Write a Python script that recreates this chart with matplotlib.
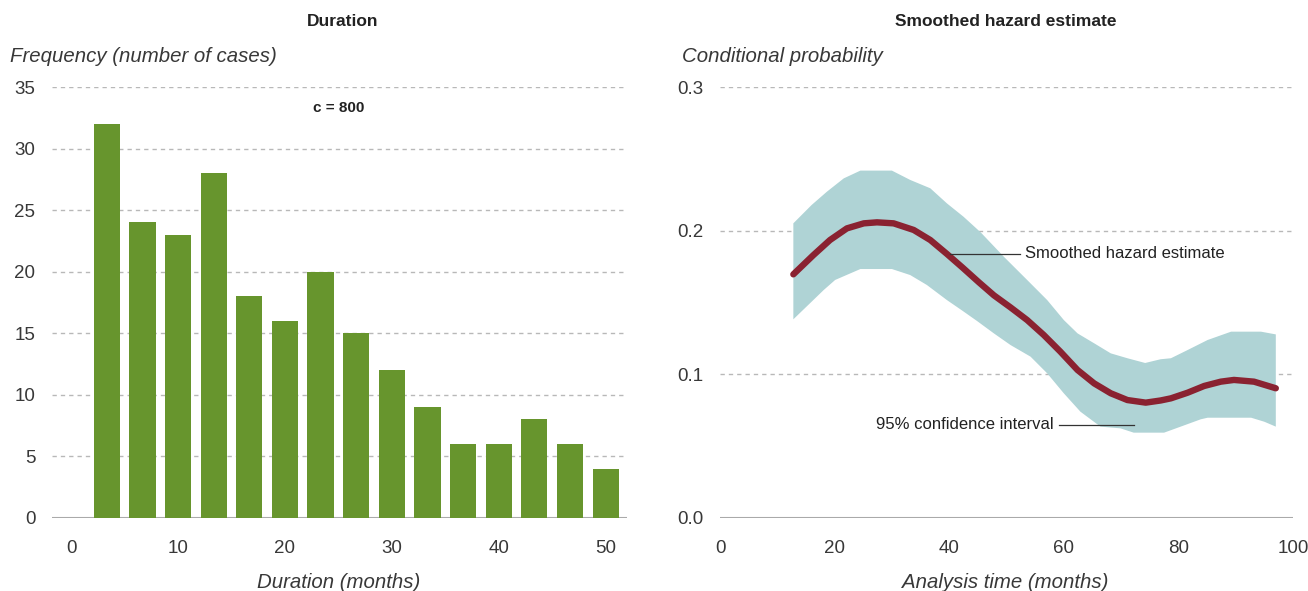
import matplotlib
matplotlib.use("Agg")
import matplotlib.pyplot as plt
import numpy as np

plt.rcParams['font.family'] = ['Liberation Sans', 'DejaVu Sans']

# left panel: duration histogram
bin_centers = [3.33, 6.67, 10.0, 13.33, 16.67, 20.0, 23.33, 26.67, 30.0, 33.33,
               36.67, 40.0, 43.33, 46.67, 50.0]
frequency = [32, 24, 23, 28, 18, 16, 20, 15, 12, 9, 6, 6, 8, 6, 4]

# right panel: smoothed hazard estimate
hz_time = [12.8, 16.3, 19.2, 22.15, 25.1, 27.4, 30.3, 33.8, 36.7, 39.6, 42.3,
           45.2, 47.8, 50.7, 53.6, 56.5, 59.4, 62.4, 65.3, 68.2, 71.1, 74.3,
           76.9, 78.7, 81.6, 84.5, 87.4, 89.7, 93.2, 97.0]
hz_est = [0.1696, 0.183, 0.1935, 0.2016, 0.2051, 0.2058, 0.2051, 0.2005, 0.1935,
          0.1838, 0.1744, 0.164, 0.155, 0.1466, 0.1378, 0.1274, 0.1158, 0.103,
          0.0937, 0.0868, 0.0821, 0.0803, 0.0818, 0.0833, 0.0872, 0.0919,
          0.0949, 0.0961, 0.0949, 0.0903]

# 95% confidence band, upper and lower edges
up_time = [12.8, 16.0, 18.65, 21.6, 24.5, 30.0, 33.2, 36.7, 39.6, 42.5, 45.5,
           49.5, 53.6, 57.1, 60.0, 62.4, 65.3, 68.2, 71.1, 74.2, 76.9, 78.7,
           81.6, 85.1, 89.2, 94.4, 97.0]
ci_upper = [0.2051, 0.2179, 0.2271, 0.2364, 0.2418, 0.2418, 0.2353, 0.2295,
            0.219, 0.2097, 0.1988, 0.182, 0.1657, 0.1517, 0.1378, 0.1285,
            0.1216, 0.1146, 0.1112, 0.1079, 0.1105, 0.1112, 0.1169, 0.1239,
            0.1297, 0.1297, 0.1278]
low_time = [12.8, 16.0, 18.1, 20.1, 24.5, 30.0, 33.2, 36.1, 39.6, 42.3, 44.9,
            47.8, 50.7, 54.2, 57.1, 60.0, 62.9, 66.4, 69.9, 72.2, 77.5, 80.4,
            83.9, 85.1, 92.7, 95.0, 97.0]
ci_lower = [0.1383, 0.1506, 0.1587, 0.1657, 0.1733, 0.1733, 0.1691, 0.1622,
            0.1517, 0.1443, 0.137, 0.1285, 0.1204, 0.1123, 0.1007, 0.0868,
            0.074, 0.0636, 0.0624, 0.0594, 0.0594, 0.0636, 0.0687, 0.0698,
            0.0698, 0.067, 0.0636]

BAR_GREEN = '#67952d'
CI_TEAL = '#afd3d5'
HAZ_RED = '#8a2231'
TXT = '#383838'
GRID = '#b8b8b8'

fig = plt.figure(figsize=(13.08, 5.91), dpi=100)
ax1 = fig.add_axes([52 / 1308, 73 / 591, 575 / 1308, 431 / 591])
ax2 = fig.add_axes([720 / 1308, 73 / 591, 573 / 1308, 431 / 591])


def style(ax):
    for s in ax.spines.values():
        s.set_visible(False)
    ax.tick_params(length=0, labelsize=13.5, labelcolor=TXT)
    ax.tick_params(axis='x', pad=16)
    ax.tick_params(axis='y', pad=12)
    ax.yaxis.grid(True, color=GRID, linestyle=(0, (3.1, 2.9)), linewidth=1)
    ax.set_axisbelow(True)
    ax.axhline(0, color='#aaaaaa', linewidth=1.5, zorder=1)


# --- left
ax1.bar(bin_centers, frequency, width=2.45, color=BAR_GREEN, zorder=2)
style(ax1)
ax1.set_xlim(-1.8, 52)
ax1.set_ylim(0, 35)
ax1.set_yticks(range(0, 36, 5))
ax1.set_xticks(range(0, 51, 10))
ax1.text(25, 33.3, 'c = 800', ha='center', va='center', fontsize=11,
         fontweight='bold', color='#222222')
fig.text(343 / 1308, 1 - 22 / 591, 'Duration', ha='center', va='center',
         fontsize=12.5, fontweight='bold', color='#222222')
fig.text(10 / 1308, 1 - 57 / 591, 'Frequency (number of cases)', ha='left',
         va='center', fontsize=14.7, style='italic', color=TXT)
fig.text(339 / 1308, 1 - 582 / 591, 'Duration (months)', ha='center',
         va='center', fontsize=14.7, style='italic', color=TXT)

# --- right
band_t = np.concatenate([up_time, low_time[::-1]])
band_y = np.concatenate([ci_upper, ci_lower[::-1]])
ax2.fill(band_t, band_y, color=CI_TEAL, linewidth=0, zorder=2)
ax2.plot(hz_time, hz_est, color=HAZ_RED, linewidth=4.6,
         solid_capstyle='round', solid_joinstyle='round', zorder=3)
style(ax2)
ax2.set_xlim(0, 100)
ax2.set_ylim(0, 0.3)
ax2.set_yticks([0.0, 0.1, 0.2, 0.3])
ax2.set_yticklabels(['0.0', '0.1', '0.2', '0.3'])
ax2.set_xticks(range(0, 101, 20))

ax2.plot([40.2, 52.4], [0.1838, 0.1838], color='#333333', linewidth=0.9, zorder=4)
ax2.text(53.2, 0.1838, 'Smoothed hazard estimate', ha='left', va='center',
         fontsize=12, color='#222222')
ax2.plot([59.1, 72.2], [0.065, 0.065], color='#333333', linewidth=0.9, zorder=4)
ax2.text(58.2, 0.065, '95% confidence interval', ha='right', va='center',
         fontsize=12, color='#222222')

fig.text(1006 / 1308, 1 - 22 / 591, 'Smoothed hazard estimate', ha='center',
         va='center', fontsize=12.5, fontweight='bold', color='#222222')
fig.text(682 / 1308, 1 - 57 / 591, 'Conditional probability', ha='left',
         va='center', fontsize=14.7, style='italic', color=TXT)
fig.text(1005 / 1308, 1 - 582 / 591, 'Analysis time (months)', ha='center',
         va='center', fontsize=14.7, style='italic', color=TXT)

fig.savefig('out.png', dpi=100)
